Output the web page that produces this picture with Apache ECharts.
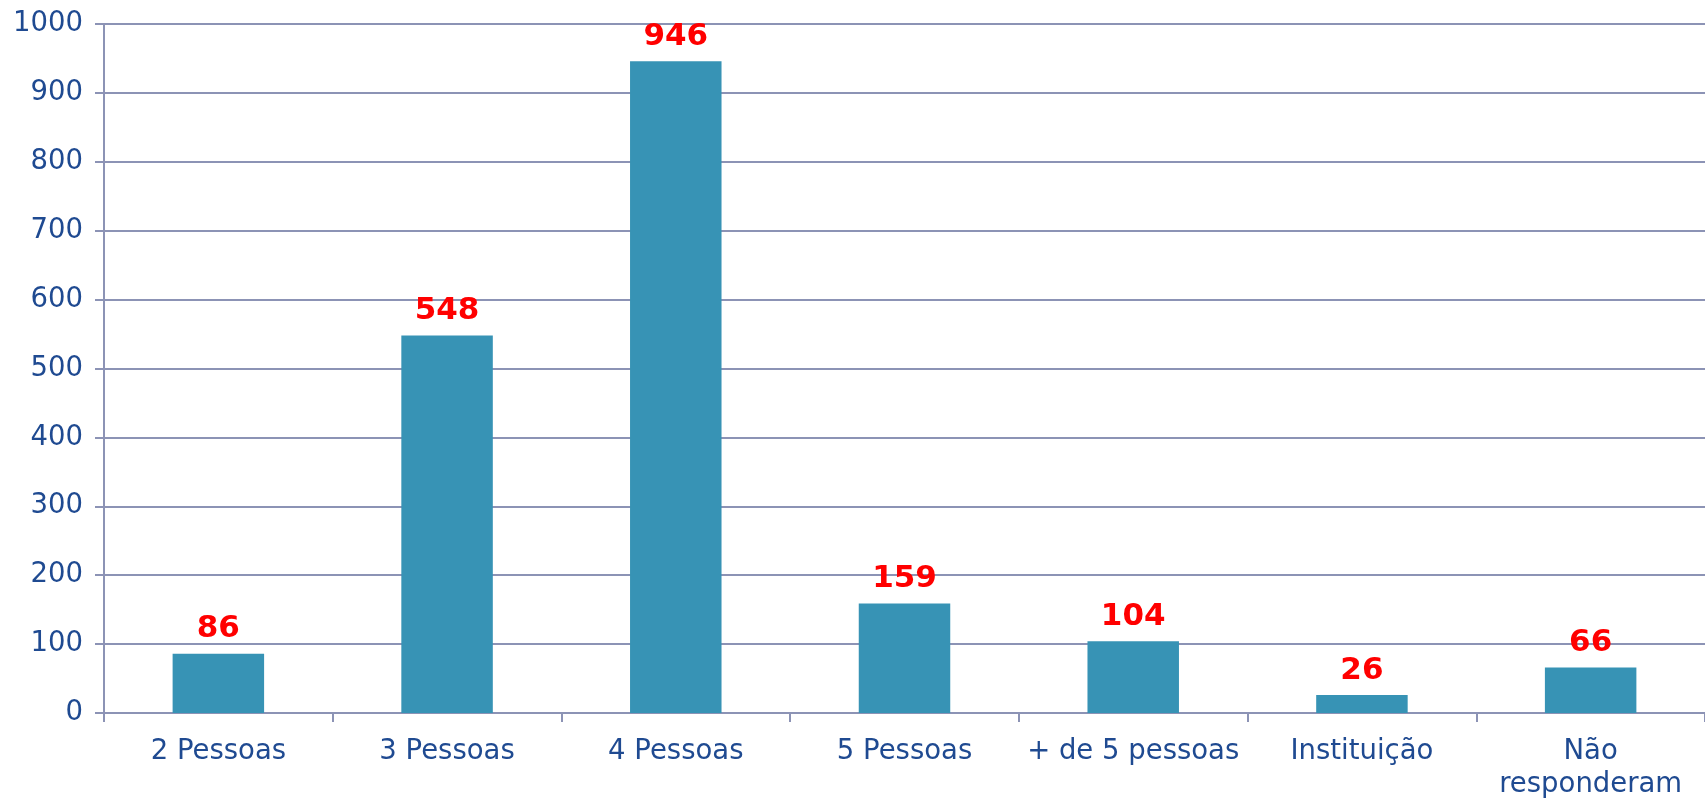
<!DOCTYPE html>
<html>
<head>
<meta charset="utf-8">
<script src="https://cdn.jsdelivr.net/npm/echarts@6/dist/echarts.min.js"></script>
<style>
  html, body { margin: 0; padding: 0; background: #fff; }
  #chart { width: 1705px; height: 801px; }
</style>
</head>
<body>
<div id="chart"></div>
<script>
// categorias e valores
const categories = ['2 Pessoas', '3 Pessoas', '4 Pessoas', '5 Pessoas', '+ de 5 pessoas', 'Instituição', 'Não\nresponderam'];
const values = [86, 548, 946, 159, 104, 26, 66];
const yTicks = [0, 100, 200, 300, 400, 500, 600, 700, 800, 900, 1000];

const lineColor = '#8c93b5';
const textColor = '#1f4a91';

const chart = echarts.init(document.getElementById('chart'));
const option = {
    animation: false,
    grid: {
        left: 104,
        right: 0,
        top: 24,
        bottom: 82
    },
    xAxis: {
        type: 'category',
        data: categories,
        axisLine: { lineStyle: { color: lineColor, width: 2 } },
        axisTick: { show: true, length: 9, lineStyle: { color: lineColor, width: 2 } },
        axisLabel: {
            interval: 0,
            color: textColor,
            fontFamily: 'DejaVu Sans',
            fontSize: 27.5,
            margin: 22,
            lineHeight: 33
        }
    },
    yAxis: {
        type: 'value',
        min: yTicks[0],
        max: yTicks[yTicks.length - 1],
        interval: 100,
        axisLine: { show: true, lineStyle: { color: lineColor, width: 2 } },
        axisTick: { show: true, length: 9, lineStyle: { color: lineColor, width: 2 } },
        splitLine: { lineStyle: { color: lineColor, width: 2 } },
        axisLabel: {
            color: textColor,
            fontFamily: 'DejaVu Sans',
            fontSize: 27.5,
            margin: 21,
            formatter: v => String(v)
        }
    },
    series: [{
        type: 'bar',
        data: values,
        barWidth: '40%',
        itemStyle: { color: '#3793b5' },
        label: {
            show: true,
            position: 'top',
            distance: 9,
            color: '#ff0000',
            fontFamily: 'DejaVu Sans',
            fontWeight: 'bold',
            fontSize: 31
        }
    }]
};
chart.setOption(option);
</script>
</body>
</html>
